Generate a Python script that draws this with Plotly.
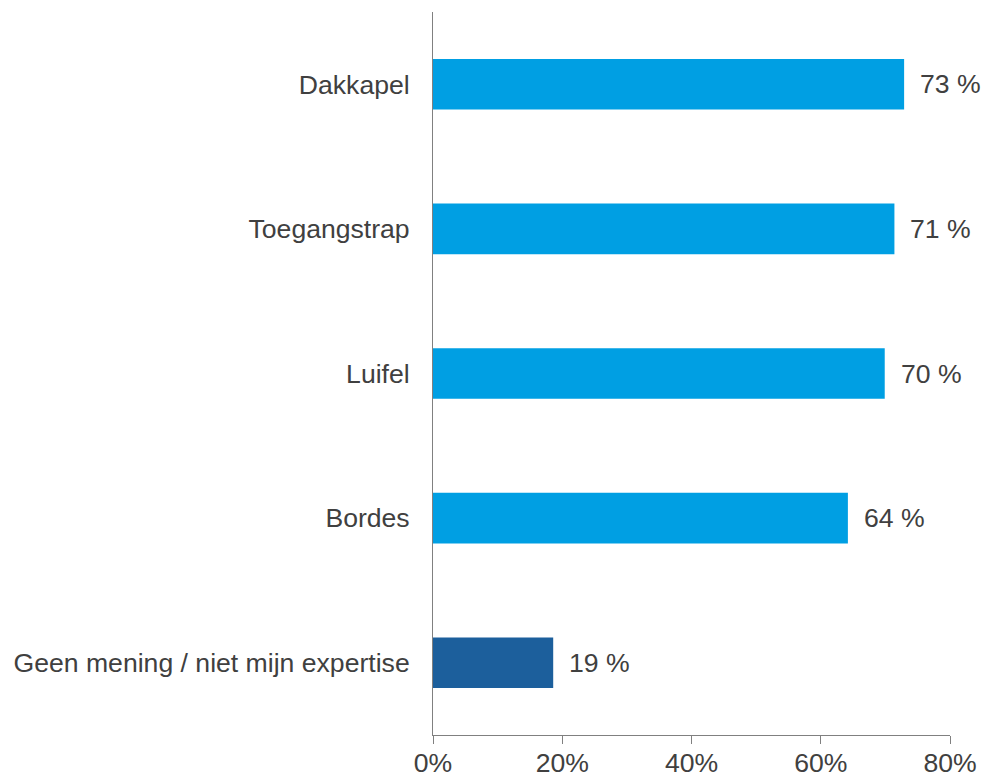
import plotly.graph_objects as go

categories = ["Dakkapel", "Toegangstrap", "Luifel", "Bordes", "Geen mening / niet mijn expertise"]
values = [72.9, 71.4, 69.9, 64.2, 18.6]
value_labels = ["73 %", "71 %", "70 %", "64 %", "19 %"]
colors = ["#009FE3", "#009FE3", "#009FE3", "#009FE3", "#1C5F9C"]
x_ticks = [0, 20, 40, 60, 80]
x_tick_labels = ["0%", "20%", "40%", "60%", "80%"]

FONT = "Liberation Sans, Arial, sans-serif"
TXT = "#404040"
FS = 26.6

fig = go.Figure()
fig.add_trace(go.Bar(
    x=values, y=categories, orientation="h",
    marker=dict(color=colors, line=dict(width=0)),
    width=0.35, hoverinfo="skip",
))

for c, v, t in zip(categories, values, value_labels):
    fig.add_annotation(x=v, y=c, text=t, xanchor="left", yanchor="middle",
                       xshift=14, showarrow=False,
                       font=dict(family=FONT, size=FS, color=TXT))

fig.update_layout(
    width=984, height=778,
    margin=dict(l=433, r=34, t=12, b=43),
    paper_bgcolor="white", plot_bgcolor="white",
    showlegend=False,
    font=dict(family=FONT, size=FS, color=TXT),
    xaxis=dict(range=[0, 80], tickvals=x_ticks, ticktext=x_tick_labels,
               showgrid=False, zeroline=False, showline=True, linecolor="#808080",
               linewidth=1, ticks="outside", ticklen=8, tickcolor="#808080",
               automargin=False, ticklabelstandoff=-4,
               tickfont=dict(family=FONT, size=FS, color=TXT)),
    yaxis=dict(categoryorder="array", categoryarray=categories[::-1],
               range=[-0.5, 4.5], automargin=False,
               showgrid=False, zeroline=False, showline=True, linecolor="#808080",
               linewidth=1, ticks="", ticklabelstandoff=17,
               tickfont=dict(family=FONT, size=FS, color=TXT)),
)

fig.write_html("out.html", config={"displayModeBar": False},
               post_script="document.body.style.margin='0';document.body.style.overflow='hidden';")
